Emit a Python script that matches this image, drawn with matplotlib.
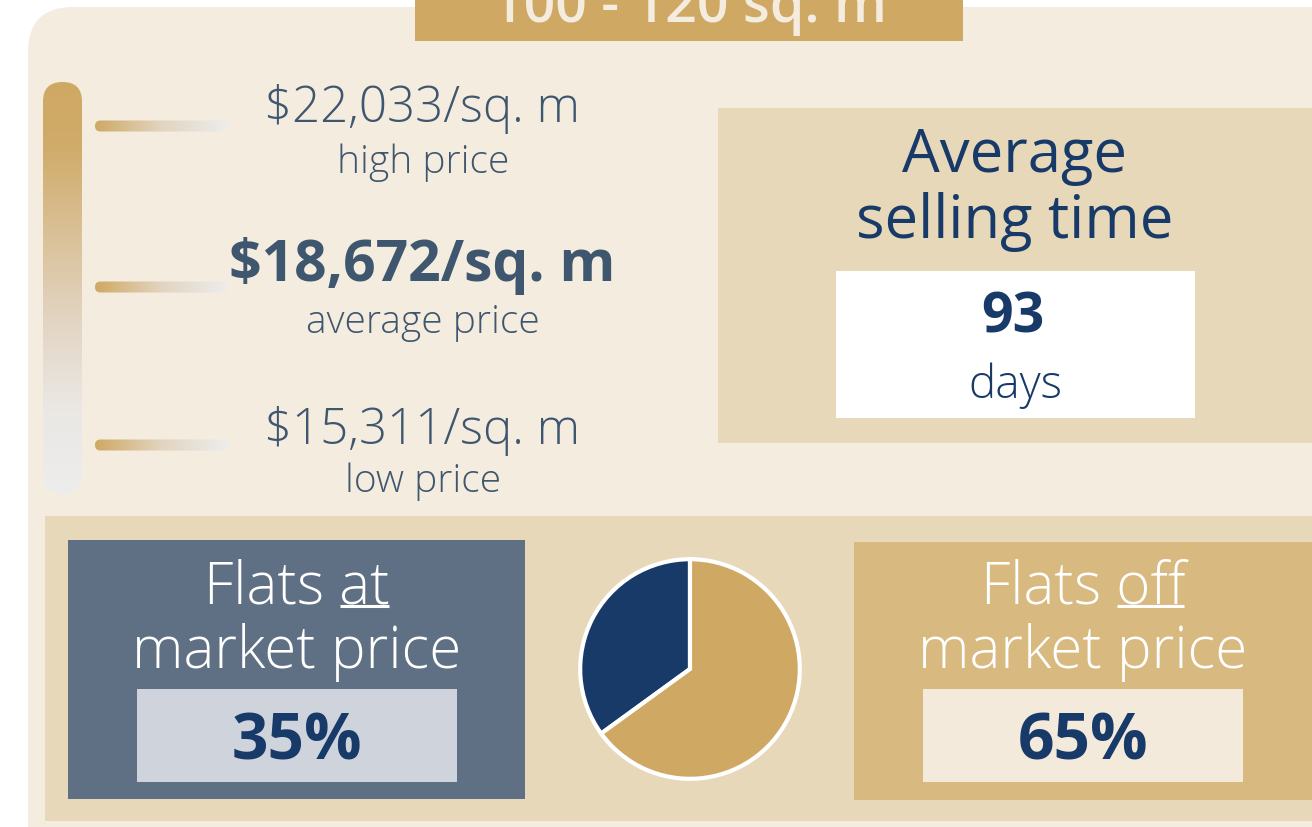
import numpy as np
import matplotlib
matplotlib.use("Agg")
import matplotlib.pyplot as plt
from matplotlib.patches import FancyBboxPatch, Rectangle
from matplotlib.colors import LinearSegmentedColormap

# data
size_band = "100 - 120 sq. m"
price_values = [22033, 18672, 15311]
price_labels = ["high price", "average price", "low price"]
selling_days = 93
share_labels = ["at", "off"]
share_values = [35, 65]

GOLD = "#CFA964"
CREAM = "#F4ECDF"
SAND = "#E8D8BA"
NAVY = "#173A68"
SLATE = "#3F566F"
FONT = "Open Sans"
LIGHT = "light"

fig = plt.figure(figsize=(13.12, 8.28), dpi=100)
fig.patch.set_facecolor("white")
ax = fig.add_axes([0, 0, 1, 1])
ax.set_xlim(0, 1312)
ax.set_ylim(828, 0)
ax.axis("off")

# main cream panel with rounded left corners
ax.add_patch(FancyBboxPatch((28 + 45, 8 + 45), 1400, 860, boxstyle="round,pad=45",
                            fc=CREAM, ec="none"))

# title tab
ax.add_patch(Rectangle((415, -5), 548, 47, fc=GOLD, ec="none"))
ax.text(689, 22, size_band, ha="center", va="baseline", color=CREAM,
        fontsize=40, fontweight="semibold", family=FONT)

# vertical gradient scale
vcmap = LinearSegmentedColormap.from_list("v", [(0, GOLD), (0.15, "#D0AB69"), (0.55, "#E1D2BD"),
                                                (0.78, "#EAE7E3"), (1, "#EDEDED")])
vbar = FancyBboxPatch((43 + 19.5, 83 + 19.5), 0, 412 - 39, boxstyle="round,pad=19.5",
                      fc="none", ec="none")
ax.add_patch(vbar)
im = ax.imshow(np.linspace(0, 1, 256).reshape(-1, 1), cmap=vcmap, aspect="auto",
               extent=(43, 82, 495, 83), zorder=2)
im.set_clip_path(vbar)

# horizontal ticks with gradient + price texts
hcmap = LinearSegmentedColormap.from_list("h", [(0, GOLD), (0.5, "#E2D4BF"), (1, "#EDEDED")])
tick_y = [127, 288, 446]
val_y = [109, 266, 431]
lab_y = [163, 323, 482]
for i, (v, lab) in enumerate(zip(price_values, price_labels)):
    y = tick_y[i]
    hb = FancyBboxPatch((95 + 5.5, y), 133 - 11, 0, boxstyle="round,pad=5.5",
                        fc="none", ec="none")
    ax.add_patch(hb)
    him = ax.imshow(np.linspace(0, 1, 256).reshape(1, -1), cmap=hcmap, aspect="auto",
                    extent=(95, 228, y + 6, y - 6), zorder=2)
    him.set_clip_path(hb)
    bold = i == 1
    ax.text(422, val_y[i], f"${v:,}/sq. m", ha="center", va="center", color=SLATE,
            fontsize=41 if bold else 35.5, fontweight="bold" if bold else LIGHT, family=FONT,
            zorder=3)
    ax.text(423, lab_y[i], lab, ha="center", va="center", color=SLATE,
            fontsize=28, fontweight=LIGHT, family=FONT, zorder=3)

ax.set_xlim(0, 1312)
ax.set_ylim(828, 0)

# average selling time box
ax.add_patch(Rectangle((718, 109), 700, 335, fc=SAND, ec="none"))
ax.text(1015, 156, "Average", ha="center", va="center", color=NAVY, fontsize=43, family=FONT)
ax.text(1015, 222, "selling time", ha="center", va="center", color=NAVY, fontsize=43, family=FONT)
ax.add_patch(Rectangle((836, 272), 359, 147, fc="white", ec="none"))
ax.text(1013, 318, f"{selling_days}", ha="center", va="center", color=NAVY, fontsize=40,
        fontweight="bold", family=FONT)
ax.text(1015, 386, "days", ha="center", va="center", color=NAVY, fontsize=33,
        fontweight=LIGHT, family=FONT)

# bottom band
ax.add_patch(Rectangle((45, 517), 1300, 305, fc=SAND, ec="none"))
boxes = [(68, 541, 457, 259, "#5F7085", "#CFD4DC", 297), (854, 543, 470, 258, "#D8B97F", "#F4EADB", 1083)]
fig.canvas.draw()
renderer = fig.canvas.get_renderer()
FS = 42
for (bx, by, bw, bh, fc, ic, cx), word, val in zip(boxes, share_labels, share_values):
    ax.add_patch(Rectangle((bx, by), bw, bh, fc=fc, ec="none"))
    t = ax.text(cx, 588, f"Flats {word}", ha="center", va="center", color="white",
                fontsize=FS, fontweight=LIGHT, family=FONT)
    ax.text(cx, 653, "market price", ha="center", va="center", color="white",
            fontsize=FS, fontweight=LIGHT, family=FONT)
    # underline the key word
    bb = t.get_window_extent(renderer).transformed(ax.transData.inverted())
    w = ax.text(0, 0, word, fontsize=FS, fontweight=LIGHT, family=FONT)
    wb = w.get_window_extent(renderer).transformed(ax.transData.inverted())
    w.remove()
    x1 = max(bb.x0, bb.x1)
    x0 = x1 - abs(wb.x1 - wb.x0)
    ax.plot([x0 + 1, x1 - 1], [607, 607], color="white", lw=2.2, solid_capstyle="butt")
    ax.add_patch(Rectangle((cx - 160, 690), 320, 93, fc=ic, ec="none"))
    ax.text(cx, 743, f"{val}%", ha="center", va="center", color=NAVY, fontsize=46,
            fontweight="bold", family=FONT)

ax.set_xlim(0, 1312)
ax.set_ylim(828, 0)

# pie
pax = fig.add_axes([(690 - 112) / 1312, (828 - 670 - 112) / 828, 224 / 1312, 224 / 828])
pax.pie(share_values, colors=[NAVY, GOLD], startangle=90, counterclock=True,
        wedgeprops=dict(edgecolor="white", linewidth=3))
pax.set_xlim(-1.02, 1.02)
pax.set_ylim(-1.02, 1.02)
pax.set_aspect("equal")
pax.axis("off")

fig.savefig("out.png", dpi=100, facecolor="white")
